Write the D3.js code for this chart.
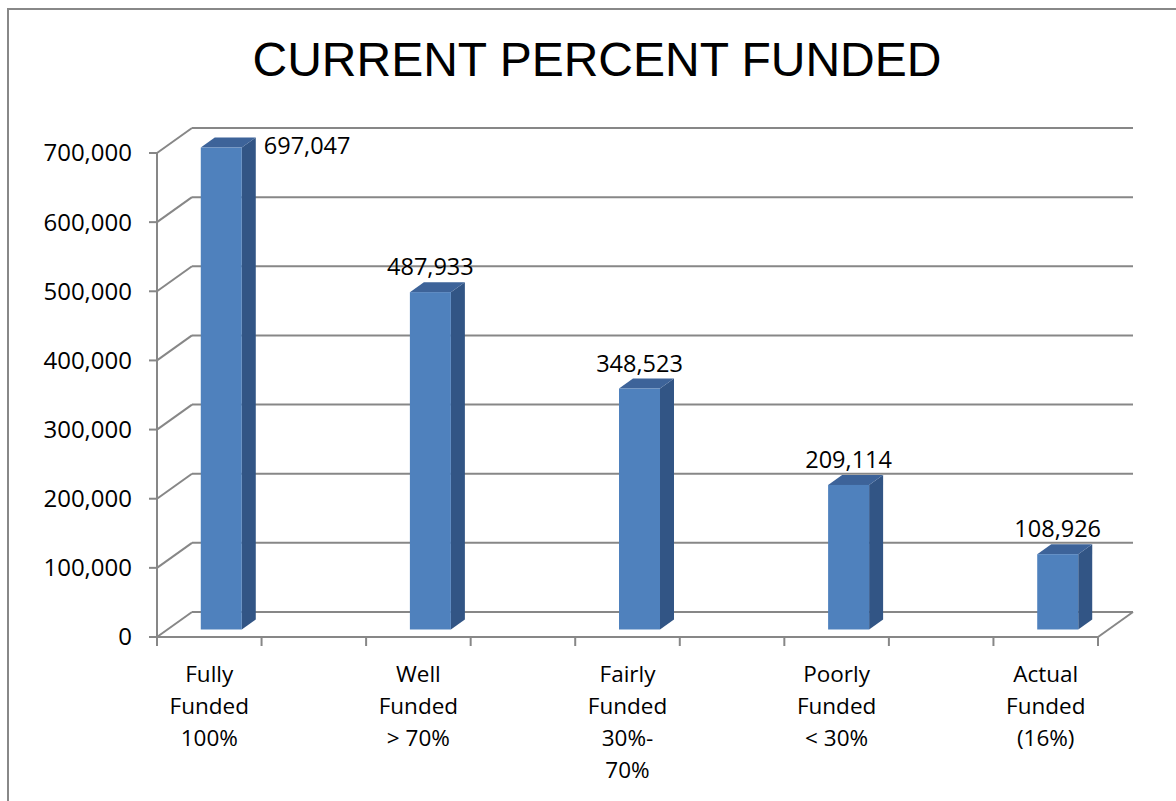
<!DOCTYPE html>
<html>
<head>
<meta charset="utf-8">
<script src="https://cdn.jsdelivr.net/npm/d3@7"></script>
<style>
  body { margin: 0; background: #fff; }
  text { font-family: "Open Sans", sans-serif; fill: #000; }
</style>
</head>
<body>
<script>
'use strict';

// chart data
var categories = [
  ["Fully", "Funded", "100%"],
  ["Well", "Funded", "> 70%"],
  ["Fairly", "Funded", "30%-", "70%"],
  ["Poorly", "Funded", "< 30%"],
  ["Actual", "Funded", "(16%)"]
];
var values = [697047, 487933, 348523, 209114, 108926];
var yTicks = [0, 100000, 200000, 300000, 400000, 500000, 600000, 700000];
var title = "CURRENT PERCENT FUNDED";

var w = 1176, h = 801;
var depth = { dx: 35, dy: -25 };   // offset of the back wall
var barFront = 0.3, barDepth = 0.4; // bar position inside the depth
var barW = 41;
var gridColor = "#878787";

var svg = d3.select("body").append("svg")
    .attr("width", w)
    .attr("height", h);

// outer chart border (right / bottom are cut off)
svg.append("rect")
    .attr("x", 8).attr("y", 9)
    .attr("width", w).attr("height", h)
    .attr("fill", "none")
    .attr("stroke", "#888")
    .attr("stroke-width", 2);

svg.append("text")
    .attr("x", 597).attr("y", 76)
    .attr("text-anchor", "middle")
    .style("font-family", "'Liberation Sans', Arial, sans-serif")
    .style("font-size", "48px")
    .text(title);

var y = d3.scaleLinear().domain([0, 700000]).range([637, 153]);
// category axis spans 4.5 category widths, ticks every half
var x = d3.scaleLinear().domain([0, 4.5]).range([157, 1098]);
var cx = function(i) { return x(i + 0.25); };

var grid = svg.append("g")
    .attr("stroke", gridColor)
    .attr("stroke-width", 2)
    .attr("fill", "none");

// back wall gridlines
grid.selectAll("line.back").data(yTicks).enter()
    .append("line")
    .attr("x1", x(0) + depth.dx).attr("x2", x(4.5) + depth.dx)
    .attr("y1", function(d) { return y(d) + depth.dy; })
    .attr("y2", function(d) { return y(d) + depth.dy; });

// side wall diagonals
grid.selectAll("line.side").data(yTicks).enter()
    .append("line")
    .attr("x1", x(0)).attr("x2", x(0) + depth.dx)
    .attr("y1", function(d) { return y(d); })
    .attr("y2", function(d) { return y(d) + depth.dy; });

// floor right edge
grid.append("line")
    .attr("x1", x(4.5)).attr("x2", x(4.5) + depth.dx)
    .attr("y1", y(0)).attr("y2", y(0) + depth.dy);

// value axis
grid.append("line")
    .attr("x1", x(0)).attr("x2", x(0))
    .attr("y1", y(700000)).attr("y2", y(0));
grid.selectAll("line.ytick").data(yTicks).enter()
    .append("line")
    .attr("x1", x(0) - 8).attr("x2", x(0))
    .attr("y1", function(d) { return y(d); })
    .attr("y2", function(d) { return y(d); });

svg.selectAll("text.ylab").data(yTicks).enter()
    .append("text")
    .attr("x", 132)
    .attr("y", function(d) { return y(d); })
    .attr("dy", "0.35em")
    .attr("text-anchor", "end")
    .style("font-size", "24px")
    .text(d3.format(","));

// category axis
grid.append("line")
    .attr("x1", x(0) - 8).attr("x2", x(4.5))
    .attr("y1", y(0)).attr("y2", y(0));
grid.selectAll("line.xtick").data(d3.range(0, 4.51, 0.5)).enter()
    .append("line")
    .attr("x1", function(d) { return x(d); })
    .attr("x2", function(d) { return x(d); })
    .attr("y1", y(0)).attr("y2", y(0) + 9);

var catLabels = svg.selectAll("text.cat").data(categories).enter()
    .append("text")
    .attr("text-anchor", "middle")
    .style("font-size", "22.5px");
catLabels.selectAll("tspan").data(function(d, i) { return d.map(function(s) { return { s: s, i: i }; }); })
    .enter().append("tspan")
    .attr("x", function(d) { return cx(d.i); })
    .attr("y", function(d, j) { return 682 + j * 32; })
    .text(function(d) { return d.s; });

// 3d bars
var fx = depth.dx * barFront, fy = depth.dy * barFront;
var bx = depth.dx * barDepth, by = depth.dy * barDepth;

var bars = svg.selectAll("g.bar").data(values).enter()
    .append("g").attr("class", "bar");

bars.each(function(v, i) {
  var g = d3.select(this);
  var l = cx(i) + fx + 1.5 - barW / 2, r = l + barW;
  var t = y(v) + fy, b = y(0) + fy;
  // side face
  g.append("path")
      .attr("fill", "#325585")
      .attr("d", "M" + r + "," + b + "L" + (r + bx) + "," + (b + by) +
                 "L" + (r + bx) + "," + (t + by) + "L" + r + "," + t + "Z");
  // top face
  g.append("path")
      .attr("fill", "#3d6399")
      .attr("d", "M" + l + "," + t + "L" + r + "," + t + "L" + (r + bx) + "," + (t + by) +
                 "L" + (l + bx) + "," + (t + by) + "Z");
  // front face
  g.append("rect")
      .attr("x", l).attr("y", t)
      .attr("width", barW).attr("height", b - t)
      .attr("fill", "#4f81bd");

  // value label: beside the bar when it would hit the top of the plot
  var lab = g.append("text").style("font-size", "23.5px").text(d3.format(",")(v));
  if (v > 0.9 * y.domain()[1]) {
    lab.attr("x", r + bx + 8).attr("y", t + 6);
  } else {
    lab.attr("x", l + barW / 2).attr("y", t + by - 7).attr("text-anchor", "middle");
  }
});
</script>
</body>
</html>
